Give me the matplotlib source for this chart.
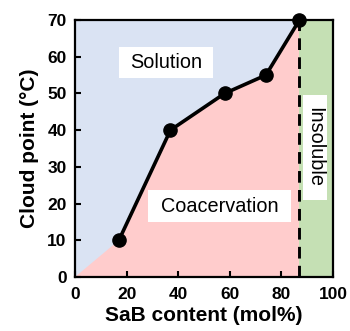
import matplotlib
matplotlib.use("Agg")
import matplotlib.pyplot as plt
from matplotlib.patches import Rectangle

sab = [17, 37, 58, 74, 87]
cloud = [10, 40, 50, 55, 70]
limit_x = 87
xmax, ymax = 100, 70

plt.rcParams['font.family'] = ['Liberation Sans', 'DejaVu Sans']

fig = plt.figure(figsize=(3.5, 3.31), dpi=100)
ax = fig.add_axes([75/350, 1 - 277/331, 258/350, 257/331])

blue = '#DAE3F3'
pink = '#FFCCCC'
green = '#C5E0B4'

ax.fill_between([0, xmax], 0, ymax, color=blue, lw=0, zorder=0)
bx = [0] + sab + [limit_x]
by = [0] + cloud + [0]
ax.fill(bx, by, color=pink, lw=0, zorder=1)
ax.fill_between([limit_x, xmax], 0, ymax, color=green, lw=0, zorder=1)

ax.plot(sab, cloud, color='black', lw=2.6, marker='o', ms=9.5, zorder=4, clip_on=False)
ax.plot([limit_x, limit_x], [0, ymax], color='black', lw=2.1, ls=(0, (4, 2.5)), zorder=3)

# white label boxes
for (x0, x1, y0, y1) in [(17.1, 53.5, 54.2, 62.6), (28.3, 83.7, 15.0, 23.7), (88.4, 97.7, 21.0, 49.6)]:
    ax.add_patch(Rectangle((x0, y0), x1 - x0, y1 - y0, facecolor='white', edgecolor='none', zorder=5))

ax.text(35.3, 58.4, 'Solution', fontsize=14.3, ha='center', va='center', zorder=6)
ax.text(56.0, 19.3, 'Coacervation', fontsize=14.3, ha='center', va='center', zorder=6)
ax.text(93.0, 35.3, 'Insoluble', fontsize=14.3, ha='center', va='center', rotation=-90, zorder=6)

ax.set_xlim(0, xmax)
ax.set_ylim(0, ymax)
ax.set_xticks([0, 20, 40, 60, 80, 100])
ax.set_yticks([0, 10, 20, 30, 40, 50, 60, 70])
ax.tick_params(direction='in', width=1.5, length=4, labelsize=12.5)
ax.tick_params(axis='x', pad=7)
ax.tick_params(axis='y', pad=6)
for lab in ax.get_xticklabels() + ax.get_yticklabels():
    lab.set_fontweight('bold')
for s in ax.spines.values():
    s.set_linewidth(1.6)
    s.set_zorder(7)

ax.set_xlabel('SaB content (mol%)', fontsize=15, fontweight='bold', labelpad=3)
ax.set_ylabel('Cloud point (°C)', fontsize=15, fontweight='bold', labelpad=6)

fig.savefig('out.png', dpi=100)
